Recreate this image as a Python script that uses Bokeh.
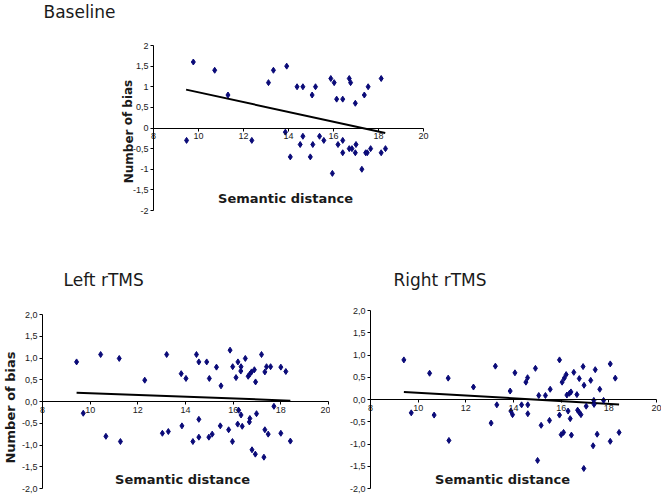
from bokeh.plotting import figure
from bokeh.models import LinearAxis, FixedTicker, Label, Range1d
from bokeh.layouts import column, row
from bokeh.embed import file_html
from bokeh.resources import INLINE

# ---------------- data ----------------
baseline_x = [9.77, 10.72, 11.31, 9.47, 12.37, 13.11, 13.33, 13.92, 13.86, 14.08,
              14.38, 14.64, 14.52, 14.64, 15.05, 15.2, 15.08, 14.97, 15.38, 15.57,
              15.88, 16.03, 16.14, 16.2, 15.95, 16.41, 16.41, 16.41, 16.7, 16.76,
              16.7, 16.82, 16.97, 17.0, 16.97, 17.26, 17.37, 17.43, 17.5, 17.54,
              17.65, 18.12, 18.12, 18.31]
baseline_y = [1.6, 1.4, 0.8, -0.3, -0.3, 1.1, 1.4, 1.5, -0.1, -0.7,
              1.0, 1.0, -0.4, -0.2, 0.8, 1.0, -0.4, -0.7, -0.2, -0.3,
              1.2, 1.1, 0.7, -0.4, -1.1, 0.7, -0.3, -0.6, 1.2, 1.1,
              -0.5, -0.5, 0.6, -0.4, -0.6, -1.0, 0.8, -0.6, -0.6, 1.0,
              -0.5, 1.2, -0.6, -0.5]
baseline_fit_x = [9.45, 18.3]
baseline_fit_y = [0.93, -0.12]

left_x = [9.43, 10.44, 11.22, 9.71, 10.66, 11.27, 12.29, 13.21, 13.03, 13.28,
          13.82, 14.02, 13.85, 14.31, 14.46, 14.56, 14.56, 14.56, 14.89, 15.0,
          14.98, 15.12, 15.3, 15.49, 15.46, 15.81, 15.87, 15.98, 15.97, 16.12,
          16.2, 16.19, 16.23, 16.33, 16.32, 16.33, 16.38, 16.51, 16.63, 16.7,
          16.77, 16.89, 16.94, 16.68, 16.7, 16.98, 16.79, 16.93, 17.19, 17.33,
          17.4, 17.57, 17.29, 17.33, 17.47, 17.71, 18.0, 18.21, 18.0, 18.4]
left_y = [0.91, 1.08, 0.99, -0.27, -0.80, -0.92, 0.49, 1.08, -0.73, -0.69,
          0.64, 0.53, -0.56, -0.92, 1.08, 0.91, -0.41, -0.82, 0.91, 0.53,
          -0.82, -0.75, 0.79, 0.36, -0.56, -0.65, 1.18, 0.80, -0.92, 0.55,
          0.91, -0.52, -0.20, 0.80, 0.70, -0.31, -0.57, 0.99, 0.58, 0.63,
          0.68, 0.73, 0.45, -0.47, -0.39, -0.28, -1.11, -1.21, 1.08, 0.68,
          0.80, 0.80, -1.28, -0.65, -0.75, -0.11, 0.79, 0.69, -0.73, -0.91]
left_fit_x = [9.43, 18.4]
left_fit_y = [0.20, 0.02]

right_x = [9.40, 9.71, 10.48, 10.67, 11.26, 11.29, 12.32, 13.06, 13.24, 13.30,
           13.86, 13.89, 14.06, 13.96, 14.34, 14.52, 14.59, 14.60, 14.60, 14.92,
           15.06, 15.01, 15.16, 15.34, 15.54, 15.51, 15.93, 15.93, 16.04, 16.00,
           16.10, 16.13, 16.21, 16.24, 16.29, 16.35, 16.41, 16.38, 16.43, 16.53,
           16.66, 16.69, 16.76, 16.76, 16.83, 16.92, 16.96, 16.95, 17.05, 17.24,
           17.34, 17.37, 17.38, 17.43, 17.51, 17.62, 17.78, 18.06, 18.06, 18.27,
           18.43]
right_y = [0.89, -0.30, 0.59, -0.35, 0.48, -0.92, 0.28, -0.53, 0.75, -0.12,
           0.19, -0.26, 0.60, -0.34, -0.12, 0.39, 0.49, -0.12, -0.32, 0.70,
           0.09, -1.37, -0.58, 0.09, 0.23, -0.47, 0.89, -0.35, 0.39, -0.79,
           -0.74, 0.48, 0.56, 0.10, -0.26, 0.14, 0.17, -0.43, -0.80, 0.61,
           0.11, -0.24, 0.47, -0.29, -0.34, 0.74, 0.32, -1.55, -0.15, 0.43,
           -1.04, -0.02, -0.11, 0.67, -0.78, 0.23, -0.02, 0.80, -0.94, 0.48,
           -0.74]
right_fit_x = [9.40, 18.43]
right_fit_y = [0.17, -0.11]

x_ticks = [8, 10, 12, 14, 16, 18, 20]
x_tick_labels = ["8", "10", "12", "14", "16", "18", "20"]
y_ticks = [2, 1.5, 1, 0.5, 0, -0.5, -1, -1.5, -2]
y_tick_labels_top = ["2", "1,5", "1", "0,5", "0", "-0,5", "-1", "-1,5", "-2"]
y_tick_labels_bottom = ["2,0", "1,5", "1,0", "0,5", "0,0", "-0,5", "-1,0", "-1,5", "-2,0"]

titles = ["Baseline", "Left rTMS", "Right rTMS"]
x_label = "Semantic distance"
y_label = "Number of bias"

MARK = "#0a0a78"
TXT = "#1a1a1a"


def panel(w, h, x8_px, x20_px, y2_px, ym2_px, xs, ys, fx, fy, ylabels,
          title, title_px, xlab_px, ylab_px, ylab_size):
    # pixel layout -> ranges (pixels are relative to figure's top-left)
    kx = (x20_px - x8_px) / 12.0
    ky = (ym2_px - y2_px) / 4.0
    x0 = 8 - x8_px / kx
    x1 = 8 + (w - x8_px) / kx
    y1 = 2 + y2_px / ky
    y0 = -2 - (h - ym2_px) / ky

    def dx(px):
        return 8 + (px - x8_px) / kx

    def dy(py):
        return 2 - (py - y2_px) / ky

    p = figure(width=w, height=h, x_range=Range1d(x0, x1), y_range=Range1d(y0, y1),
               output_backend="svg", toolbar_location=None,
               x_axis_location=None, y_axis_location=None, min_border=0)
    p.outline_line_color = None
    p.grid.visible = False
    p.background_fill_color = "white"
    p.border_fill_color = "white"

    xa = LinearAxis(fixed_location=0, bounds=(8, 20),
                    ticker=FixedTicker(ticks=x_ticks),
                    major_label_overrides={t: l for t, l in zip(x_ticks, x_tick_labels)})
    ya = LinearAxis(fixed_location=8, bounds=(-2, 2),
                    ticker=FixedTicker(ticks=y_ticks),
                    major_label_overrides={t: l for t, l in zip(y_ticks, ylabels)})
    for a in (xa, ya):
        a.axis_line_color = "black"
        a.axis_line_width = 1
        a.major_tick_line_color = "black"
        a.major_tick_in = 0
        a.major_tick_out = 3
        a.minor_tick_out = 0
        a.minor_tick_in = 0
        a.major_label_text_font = "Liberation Sans"
        a.major_label_text_font_size = "9px"
        a.major_label_text_color = TXT
        a.major_label_standoff = 2
    p.add_layout(xa, "below")
    p.add_layout(ya, "left")

    p.line(fx, fy, line_color="black", line_width=2)
    p.scatter(xs, ys, marker="diamond", size=6, fill_color=MARK, line_color=MARK)

    p.add_layout(Label(x=dx(title_px[0]), y=dy(title_px[1]), text=title,
                       text_font="DejaVu Sans", text_font_size="17px",
                       text_color=TXT, text_align="left", text_baseline="alphabetic"))
    p.add_layout(Label(x=dx(xlab_px[0]), y=dy(xlab_px[1]), text=x_label,
                       text_font="DejaVu Sans", text_font_size="13px", text_font_style="bold",
                       text_color=TXT, text_align="center", text_baseline="middle"))
    if ylab_px is not None:
        p.add_layout(Label(x=dx(ylab_px[0]), y=dy(ylab_px[1]), text=y_label, angle=1.5708,
                           text_font="DejaVu Sans", text_font_size=ylab_size,
                           text_font_style="bold",
                           text_color=TXT, text_align="center", text_baseline="middle"))
    return p


# top panel: figure at page (0,0), size 440x240
top = panel(440, 240, 153, 423, 45, 210, baseline_x, baseline_y,
            baseline_fit_x, baseline_fit_y, y_tick_labels_top,
            titles[0], (43, 11), (285, 198), (128, 131), "12px")
# bottom-left: figure at page (0,240), size 330x255
bl = panel(330, 255, 42, 328, 74, 248, left_x, left_y,
           left_fit_x, left_fit_y, y_tick_labels_bottom,
           titles[1], (63, 39), (182, 239), (10, 167), "13px")
# bottom-right: figure at page (330,240), size 331x255
br = panel(331, 255, 40, 326, 70, 248, right_x, right_y,
           right_fit_x, right_fit_y, y_tick_labels_bottom,
           titles[2], (63, 39), (172, 239), None, "13px")

layout = column(top, row(bl, br, spacing=0), spacing=0)
open("out.html", "w").write(file_html(layout, INLINE))
